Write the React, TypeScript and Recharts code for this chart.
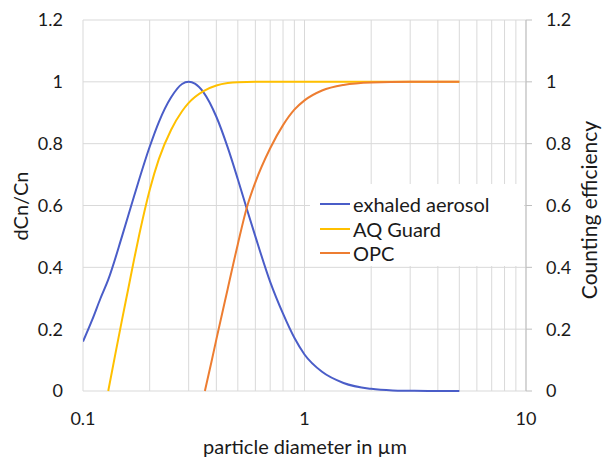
import { LineChart, Line, XAxis, YAxis, CartesianGrid, Legend, Label } from 'recharts';

const xTicks = [0.1, 0.2, 0.3, 0.4, 0.5, 0.6, 0.7, 0.8, 0.9, 1, 2, 3, 4, 5, 6, 7, 8, 9, 10];
const xLabelled = [0.1, 1, 10];
const yTicks = [0, 0.2, 0.4, 0.6, 0.8, 1, 1.2];

const exhaledD = [0.1, 0.11, 0.12, 0.13, 0.15, 0.17, 0.2, 0.22, 0.25, 0.28, 0.3, 0.32, 0.35, 0.4, 0.45, 0.5, 0.55, 0.6, 0.7, 0.8, 0.9, 1, 1.2, 1.5, 2, 2.5, 3, 4, 5];
const exhaledV = [0.16, 0.23, 0.3, 0.36, 0.5, 0.63, 0.79, 0.87, 0.95, 0.993, 1, 0.994, 0.966, 0.887, 0.788, 0.685, 0.587, 0.5, 0.353, 0.25, 0.172, 0.118, 0.062, 0.026, 0.007, 0.002, 0.001, 0, 0];

const aqGuardD = [0.13, 0.14, 0.15, 0.16, 0.17, 0.18, 0.2, 0.22, 0.25, 0.28, 0.3, 0.35, 0.4, 0.45, 0.5, 0.6, 0.7, 1, 2, 3, 5];
const aqGuardV = [0, 0.12, 0.23, 0.33, 0.425, 0.51, 0.65, 0.75, 0.845, 0.905, 0.932, 0.97, 0.988, 0.996, 0.999, 1, 1, 1, 1, 1, 1];

const opcD = [0.355, 0.38, 0.4, 0.45, 0.5, 0.55, 0.6, 0.7, 0.8, 0.9, 1, 1.2, 1.5, 2, 3, 4, 5];
const opcV = [0, 0.094, 0.167, 0.33, 0.475, 0.595, 0.675, 0.785, 0.86, 0.91, 0.94, 0.972, 0.99, 0.998, 1, 1, 1];

const series = [
  { name: 'exhaled aerosol', color: '#4a5dc8', axis: 'left', d: exhaledD, v: exhaledV },
  { name: 'AQ Guard', color: '#ffc000', axis: 'right', d: aqGuardD, v: aqGuardV },
  { name: 'OPC', color: '#ed7d31', axis: 'right', d: opcD, v: opcV },
];

const FONT = 'Lato, "Open Sans", sans-serif';
const TEXT = '#1a1a1a';

function LegendBox() {
  return (
    <div style={{ background: '#fff', width: 214, height: 82, paddingTop: 8, boxSizing: 'border-box', fontFamily: FONT }}>
      {series.map((s) => (
        <div key={s.name} style={{ display: 'flex', alignItems: 'center', height: 24.5, fontSize: 20, color: TEXT }}>
          <span style={{ display: 'inline-block', width: 30, height: 2, background: s.color, marginLeft: 10, marginRight: 3 }} />
          {s.name}
        </div>
      ))}
    </div>
  );
}

export default function App() {
  return (
    <div style={{ position: 'absolute', left: 0, top: 0, width: 603, height: 461, background: '#fff' }}>
      <LineChart width={603} height={461} margin={{ top: 20, right: 0, bottom: 0, left: 0 }} style={{ fontFamily: FONT }}>
        <CartesianGrid yAxisId="left" stroke="#d9d9d9" strokeWidth={1} />
        <XAxis
          dataKey="d"
          type="number"
          scale="log"
          domain={[0.1, 10]}
          ticks={xTicks}
          allowDataOverflow
          height={70}
          tickSize={0}
          tickMargin={21}
          axisLine={false}
          interval={0}
          tick={{ fill: TEXT, fontSize: 18 }}
          tickFormatter={(t: number) => (xLabelled.includes(t) ? String(t) : '')}
        >
          <Label
            content={() => (
              <text x={305} y={454} textAnchor="middle" fill={TEXT} fontSize={20} fontFamily={FONT}>
                particle diameter in µm
              </text>
            )}
          />
        </XAxis>
        <YAxis
          yAxisId="left"
          domain={[0, 1.2]}
          ticks={yTicks}
          width={83}
          tickSize={0}
          tickMargin={20}
          axisLine={false}
          tick={{ fill: TEXT, fontSize: 18 }}
        >
          <Label
            content={() => (
              <text x={28} y={206} transform="rotate(-90 28 206)" textAnchor="middle" fill={TEXT} fontSize={20} fontFamily={FONT}>
                dCn/Cn
              </text>
            )}
          />
        </YAxis>
        <YAxis
          yAxisId="right"
          orientation="right"
          domain={[0, 1.2]}
          ticks={yTicks}
          width={77}
          tickSize={6}
          tickMargin={14}
          axisLine={{ stroke: '#bfbfbf' }}
          tickLine={{ stroke: '#bfbfbf' }}
          tick={{ fill: TEXT, fontSize: 18 }}
        >
          <Label
            content={() => (
              <text x={597} y={210} transform="rotate(-90 597 210)" textAnchor="middle" fill={TEXT} fontSize={21} fontFamily={FONT}>
                Counting efficiency
              </text>
            )}
          />
        </YAxis>
        <Legend
          layout="vertical"
          align="center"
          verticalAlign="middle"
          content={() => <LegendBox />}
          wrapperStyle={{ left: 310, top: 184, width: 214, height: 82 }}
        />
        {series.map((s) => (
          <Line
            key={s.name}
            name={s.name}
            yAxisId={s.axis}
            data={s.d.map((x, i) => ({ d: x, v: s.v[i] }))}
            dataKey="v"
            type="monotone"
            stroke={s.color}
            strokeWidth={2}
            dot={false}
            activeDot={false}
            isAnimationActive={false}
          />
        ))}
      </LineChart>
    </div>
  );
}
